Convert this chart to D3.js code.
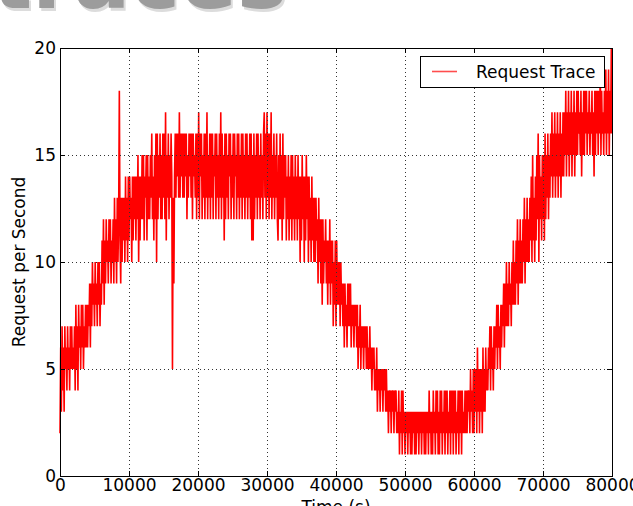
<!DOCTYPE html>
<html>
<head>
<meta charset="utf-8">
<script src="https://cdn.jsdelivr.net/npm/d3@7"></script>
<style>
  body { margin: 0; background: #fff; overflow: hidden; }
  svg { display: block; font-family: "DejaVu Sans", sans-serif; }
</style>
</head>
<body>
<div id="chart"></div>
<script>
// one sample every 100 s (one row per 1000 s)
const STEP = 100;
const requests = [
  2,6,3,7,4,6,3,7,5,6,  4,7,5,6,4,7,5,7,5,6,  5,7,4,8,5,7,4,8,6,7,  5,8,6,8,5,7,6,8,6,8,
  6,8,7,9,6,9,7,10,8,9,  7,10,8,9,7,10,8,10,7,9,  8,11,9,12,8,11,9,12,10,11,  9,12,10,12,9,11,10,12,9,13,
  10,12,9,13,10,12,18,11,9,13,  10,13,11,13,10,14,11,13,10,14,  11,14,12,13,10,14,11,14,12,14,  11,14,12,15,10,14,11,14,12,15,
  12,15,11,14,13,15,11,15,12,14,  12,15,13,16,12,14,11,15,12,16,  10,16,12,15,13,16,12,15,12,16,  13,16,12,17,11,15,13,16,12,15,
  13,16,14,5,13,9,14,16,13,16,  14,16,13,17,13,16,14,16,13,16,  13,16,14,16,12,15,13,16,14,16,  13,16,12,16,14,15,13,16,12,16,
  13,17,12,16,14,16,12,15,13,16,  12,16,13,17,12,15,13,16,12,16,  13,16,12,15,14,16,12,16,13,15,  12,16,13,17,12,16,13,15,11,16,
  12,16,13,15,12,16,14,16,12,15,  13,16,12,16,14,15,12,16,13,16,  12,15,13,16,12,16,13,15,12,16,  13,16,12,15,13,16,12,16,11,15,
  11,16,12,15,13,16,12,16,13,15,  12,16,13,15,12,16,17,13,16,12,  17,13,16,12,16,13,17,12,15,13,  16,12,15,13,16,12,11,15,12,16,
  12,15,11,16,12,15,13,15,11,14,  12,15,11,14,12,15,11,15,12,14,  11,15,12,14,11,15,12,14,10,14,  11,15,12,14,10,14,11,15,12,14,
  10,14,11,13,10,14,11,13,10,13,  10,13,11,12,9,13,10,12,9,12,  8,12,9,11,10,12,9,11,8,11,  9,12,8,11,9,11,7,10,8,11,
  7,11,8,10,8,10,7,10,8,9,  7,9,6,9,7,8,6,9,7,9,  7,9,6,8,7,8,6,8,7,8,  6,8,5,7,6,8,5,7,6,7,
  5,7,6,7,5,7,5,6,5,7,  5,6,4,6,5,6,4,5,4,6,  3,5,4,5,3,5,4,5,3,5,  4,5,3,5,3,4,2,4,3,4,
  2,4,3,4,2,4,3,4,2,3,  2,4,1,3,2,4,1,4,2,3,  1,3,2,3,1,3,2,3,1,3,  1,3,2,3,1,3,1,3,2,3,
  1,3,2,3,1,3,2,3,1,3,  1,3,2,3,1,4,2,3,1,3,  1,4,2,3,1,4,2,4,1,3,  1,4,2,4,1,3,2,4,1,4,
  2,4,1,3,2,4,1,4,2,4,  1,4,2,4,1,3,2,4,1,4,  2,4,1,4,2,3,2,4,2,4,  2,4,3,4,2,5,3,4,2,5,
  2,5,3,5,2,6,3,5,2,5,  3,5,2,6,3,5,3,6,4,5,  4,6,5,7,4,7,5,6,4,7,  5,7,6,8,5,8,6,7,5,8,
  6,8,7,9,6,9,7,10,7,9,  7,10,8,9,7,10,8,11,8,10,  8,11,9,12,8,11,9,12,9,11,  9,12,10,13,9,12,10,13,10,12,
  10,13,11,14,10,15,11,13,10,14,  11,15,12,16,10,15,12,14,11,15,  12,15,11,16,12,15,13,16,12,15,  13,16,14,17,13,16,14,17,13,16,
  14,17,13,16,14,17,13,16,14,17,  14,17,15,18,14,17,15,18,14,17,  15,18,14,17,15,18,14,17,15,18,  15,18,16,17,15,18,14,17,15,18,
  15,18,16,18,15,17,16,18,15,17,  16,18,15,17,14,18,15,18,16,18,  15,18,16,19,15,18,16,17,15,18,  16,19,15,18,16,19,15,18,16,20,
  16
];
const xTicks = [0, 10000, 20000, 30000, 40000, 50000, 60000, 70000, 80000];
const yTicks = [0, 5, 10, 15, 20];

const W = 633, H = 506;
const svg = d3.select('#chart').append('svg').attr('width', W).attr('height', H);

const x = d3.scaleLinear().domain([0, 80000]).range([60, 612]);
const y = d3.scaleLinear().domain([0, 20]).range([476, 48]);

// big cut-off heading at the very top
svg.append('text').attr('x', -6).attr('y', 11).attr('font-size', 84).attr('font-weight', 'bold')
  .attr('fill', '#dcdcdc').text('traces')
svg.append('text').attr('x', -8).attr('y', 8).attr('font-size', 84).attr('font-weight', 'bold')
  .attr('fill', '#9c9c9c').text('traces')

svg.append('rect').attr('x', 60).attr('y', 48).attr('width', 552).attr('height', 428).attr('fill', '#fff')

const line = d3.line()
  .x((d, i) => x(i * STEP))
  .y(d => y(d))

svg.append('path')
  .datum(requests)
  .attr('d', line)
  .attr('fill', 'none')
  .attr('stroke', '#ff0000')
  .attr('stroke-width', 1.6)

// dotted grid on top of the trace
const grid = svg.append('g').attr('stroke', '#333').attr('stroke-width', 1).attr('stroke-dasharray', '1,3')
grid.selectAll('.gx').data(xTicks.slice(1, -1)).join('line')
  .attr('x1', d => Math.round(x(d)) + 0.5).attr('x2', d => Math.round(x(d)) + 0.5)
  .attr('y1', 48).attr('y2', 476)
grid.selectAll('.gy').data(yTicks.slice(1, -1)).join('line')
  .attr('y1', d => Math.round(y(d)) + 0.5).attr('y2', d => Math.round(y(d)) + 0.5)
  .attr('x1', 60).attr('x2', 612)

const fontSize = 17;
const axBottom = svg.append('g').attr('transform', 'translate(0,476)')
  .call(d3.axisBottom(x).tickValues(xTicks).tickSize(-5).tickPadding(3).tickFormat(d3.format('d')))
const axTop = svg.append('g').attr('transform', 'translate(0,48)')
  .call(d3.axisTop(x).tickValues(xTicks).tickSize(-5).tickFormat(''))
const axLeft = svg.append('g').attr('transform', 'translate(60,0)')
  .call(d3.axisLeft(y).tickValues(yTicks).tickSize(-5).tickPadding(4))
const axRight = svg.append('g').attr('transform', 'translate(612,0)')
  .call(d3.axisRight(y).tickValues(yTicks).tickSize(-5).tickFormat(''))

for (const g of [axBottom, axTop, axLeft, axRight]) {
  g.select('.domain').remove()
  g.selectAll('.tick line').attr('stroke', '#000')
  g.selectAll('.tick text').attr('font-size', fontSize).attr('fill', '#000')
    .attr('font-family', '"DejaVu Sans", sans-serif')
}

svg.append('rect').attr('x', 60.5).attr('y', 48.5).attr('width', 552).attr('height', 428)
  .attr('fill', 'none').attr('stroke', '#000').attr('stroke-width', 1)

// axis titles
svg.append('text').attr('x', x(40000)).attr('y', 513).attr('text-anchor', 'middle')
  .attr('font-size', fontSize).text('Time (s)')
svg.append('text').attr('transform', `translate(25,${y(10)}) rotate(-90)`).attr('text-anchor', 'middle')
  .attr('font-size', fontSize).text('Request per Second')

// legend
const legend = svg.append('g').attr('transform', 'translate(420,56)')
legend.append('rect').attr('x', 0.5).attr('y', 0.5).attr('width', 184).attr('height', 31)
  .attr('fill', '#fff').attr('stroke', '#000')
legend.append('line').attr('x1', 12).attr('x2', 37).attr('y1', 15.5).attr('y2', 15.5)
  .attr('stroke', '#ff4d4d').attr('stroke-width', 1.6)
legend.append('text').attr('x', 56).attr('y', 22).attr('font-size', fontSize).text('Request Trace')
</script>
</body>
</html>
